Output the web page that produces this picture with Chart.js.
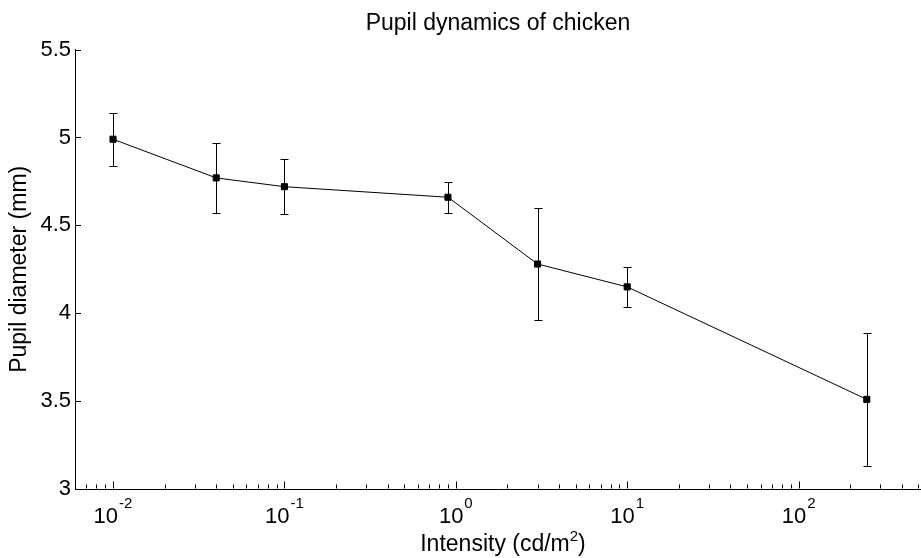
<!DOCTYPE html>
<html>
<head>
<meta charset="utf-8">
<script src="https://cdn.jsdelivr.net/npm/chart.js@4.4.0/dist/chart.umd.min.js"></script>
<style>
  body { margin: 0; background: #fff; }
  .Graph-container { width: 921px; height: 558px; position: relative; }
</style>
</head>
<body>
<div class="Graph-container"><canvas id="myChart"></canvas></div>
<script>
// data
const intensity = [0.01, 0.04, 0.1, 0.9, 3, 10, 250];
const diameter = [4.99, 4.77, 4.72, 4.66, 4.28, 4.15, 3.51];
const errorBar = [0.15, 0.197, 0.156, 0.087, 0.32, 0.113, 0.38];

// ticks
const yTicks = [3, 3.5, 4, 4.5, 5, 5.5];
const xMajorExponents = [-2, -1, 0, 1, 2];
const xMinorTicks = [0.006, 0.007, 0.008, 0.009,
  0.02, 0.03, 0.04, 0.05, 0.06, 0.07, 0.08, 0.09,
  0.2, 0.3, 0.4, 0.5, 0.6, 0.7, 0.8, 0.9,
  2, 3, 4, 5, 6, 7, 8, 9,
  20, 30, 40, 50, 60, 70, 80, 90,
  200, 300, 400, 500];

const FONT = '"Liberation Sans", Arial, Helvetica, sans-serif';

const errorBars = {
  id: 'errorBars',
  beforeDatasetsDraw(chart) {
    const {ctx, scales: {x, y}} = chart;
    ctx.save();
    ctx.strokeStyle = '#000';
    ctx.lineWidth = 1;
    ctx.beginPath();
    intensity.forEach((v, i) => {
      const px = Math.round(x.getPixelForValue(v)) + 0.5;
      const top = Math.round(y.getPixelForValue(diameter[i] + errorBar[i])) + 0.5;
      const bot = Math.round(y.getPixelForValue(diameter[i] - errorBar[i])) + 0.5;
      ctx.moveTo(px, top); ctx.lineTo(px, bot);
      ctx.moveTo(px - 4, top); ctx.lineTo(px + 4, top);
      ctx.moveTo(px - 4, bot); ctx.lineTo(px + 4, bot);
    });
    ctx.stroke();
    ctx.restore();
  }
};

const axisDecor = {
  id: 'axisDecor',
  afterDraw(chart) {
    const {ctx, chartArea, scales: {x, y}} = chart;
    ctx.save();
    ctx.strokeStyle = '#000';
    ctx.lineWidth = 1;
    ctx.beginPath();
    // inward ticks
    yTicks.forEach(v => {
      const py = Math.round(y.getPixelForValue(v)) + 0.5;
      ctx.moveTo(chartArea.left, py); ctx.lineTo(chartArea.left + 6, py);
    });
    const bottom = Math.round(chartArea.bottom) - 0.5;
    xMajorExponents.forEach(e => {
      const px = Math.round(x.getPixelForValue(Math.pow(10, e))) + 0.5;
      ctx.moveTo(px, bottom); ctx.lineTo(px, bottom - 7);
    });
    xMinorTicks.forEach(v => {
      const px = Math.round(x.getPixelForValue(v)) + 0.5;
      ctx.moveTo(px, bottom); ctx.lineTo(px, bottom - 4);
    });
    ctx.stroke();

    // x tick labels with exponents
    ctx.fillStyle = '#000';
    ctx.textAlign = 'left';
    ctx.textBaseline = 'alphabetic';
    xMajorExponents.forEach(e => {
      const px = x.getPixelForValue(Math.pow(10, e));
      ctx.font = '22px ' + FONT;
      const wb = ctx.measureText('10').width;
      ctx.font = '15px ' + FONT;
      const we = ctx.measureText(String(e)).width;
      const left = px - (wb + 1 + we) / 2;
      ctx.font = '22px ' + FONT;
      ctx.fillText('10', left, 523);
      ctx.font = '15px ' + FONT;
      ctx.fillText(String(e), left + wb + 1, 508);
    });

    // x axis title with superscript
    const cx = (chartArea.left + chartArea.right) / 2 + 5;
    ctx.font = '23px ' + FONT;
    const w1 = ctx.measureText('Intensity (cd/m').width;
    const w3 = ctx.measureText(')').width;
    ctx.font = '15px ' + FONT;
    const w2 = ctx.measureText('2').width;
    let lx = cx - (w1 + w2 + w3) / 2;
    ctx.font = '23px ' + FONT;
    ctx.fillText('Intensity (cd/m', lx, 551);
    ctx.font = '15px ' + FONT;
    ctx.fillText('2', lx + w1, 541);
    ctx.font = '23px ' + FONT;
    ctx.fillText(')', lx + w1 + w2, 551);
    ctx.restore();
  }
};

const myChart = new Chart(document.getElementById('myChart').getContext('2d'), {
  type: 'line',
  data: {
    datasets: [{
      label: 'Pupil diameter',
      data: intensity.map((v, i) => ({x: v, y: diameter[i]})),
      borderColor: '#000',
      backgroundColor: '#000',
      borderWidth: 1,
      pointStyle: 'rect',
      pointRadius: 4.3,
      pointBorderWidth: 1,
      pointBackgroundColor: '#000',
      pointBorderColor: '#000',
      lineTension: 0
    }]
  },
  options: {
    responsive: true,
    maintainAspectRatio: false,
    animation: false,
    layout: { autoPadding: false, padding: 0 },
    plugins: {
      legend: { display: false },
      tooltip: { enabled: false },
      title: {
        display: true,
        text: 'Pupil dynamics of chicken',
        color: '#000',
        fullSize: false,
        align: 'center',
        font: { family: FONT, size: 23, weight: 'normal' },
        padding: { top: 10, bottom: 12 }
      }
    },
    scales: {
      x: {
        type: 'logarithmic',
        min: 0.006,
        max: 518,
        grid: { display: false },
        border: { display: true, color: '#000', width: 1 },
        ticks: { display: false },
        afterFit: scale => { scale.height = 69; }
      },
      y: {
        min: 3,
        max: 5.5,
        grid: { display: false, drawTicks: false },
        border: { display: true, color: '#000', width: 1 },
        ticks: {
          stepSize: 0.5,
          color: '#000',
          padding: 4,
          font: { family: FONT, size: 22 },
          callback: v => String(v)
        },
        title: {
          display: true,
          text: 'Pupil diameter (mm)',
          color: '#000',
          font: { family: FONT, size: 23 },
          padding: { top: 6, bottom: 0 }
        },
        afterFit: scale => { scale.width = 75; }
      }
    }
  },
  plugins: [errorBars, axisDecor]
});
</script>
</body>
</html>
